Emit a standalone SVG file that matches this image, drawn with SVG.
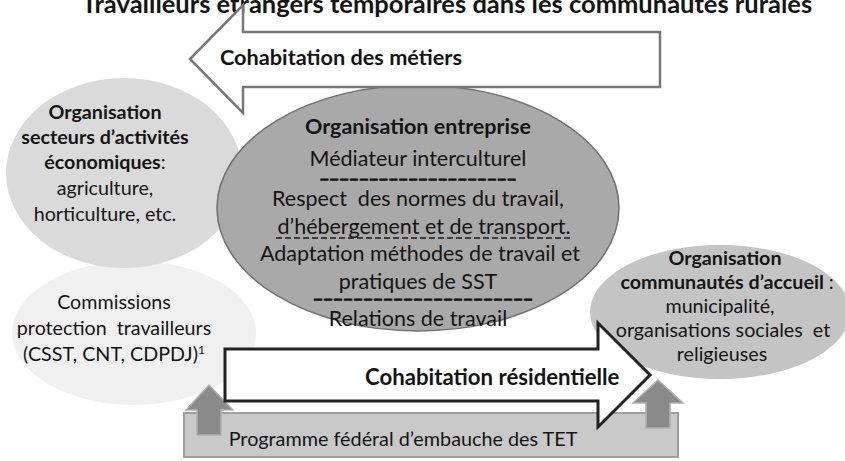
<svg xmlns="http://www.w3.org/2000/svg" width="845" height="461" viewBox="0 0 845 461">
<style>
text{font-family:Lato,"Liberation Sans",sans-serif;fill:#141414;text-anchor:middle}
.b{font-weight:bold}
.t{font-size:19.7px}
.c{font-size:21.5px}
.d{font-size:13px;font-weight:bold;stroke:#141414;stroke-width:0.7px}
</style>
<rect width="845" height="461" fill="#ffffff"/>
<text class="b" x="447" y="13" font-size="25.5">Travailleurs étrangers temporaires dans les communautés rurales</text>
<g id="commissions">
<ellipse cx="134" cy="333" rx="122" ry="72" fill="#f0f0f0"/>
<text class="t" x="114" y="309">Commissions</text>
<text class="t" x="114" y="335" xml:space="preserve">protection  travailleurs</text>
<text class="t" x="114" y="361">(CSST, CNT, CDPDJ)<tspan font-size="12" dy="-7">1</tspan></text>
</g>
<g id="secteurs">
<ellipse cx="124" cy="173" rx="118" ry="95" fill="#dadada"/>
<text class="t b" x="105" y="119">Organisation</text>
<text class="t b" x="105" y="144">secteurs d’activités</text>
<text class="t" x="105" y="169"><tspan class="b">économiques</tspan>:</text>
<text class="t" x="105" y="195">agriculture,</text>
<text class="t" x="105" y="221">horticulture, etc.</text>
</g>
<g id="communautes">
<ellipse cx="720" cy="312" rx="130" ry="67" fill="#c4c4c4"/>
<text class="t b" x="725" y="265">Organisation</text>
<text class="t b" x="727" y="289">communautés d’accueil <tspan font-weight="normal">:</tspan></text>
<text class="t" x="720" y="313">municipalité,</text>
<text class="t" x="723" y="337" xml:space="preserve">organisations sociales  et</text>
<text class="t" x="722" y="361">religieuses</text>
</g>
<g id="entreprise">
<ellipse cx="418" cy="208" rx="201" ry="123" fill="#a9a9a9" stroke="#707070" stroke-width="1.5"/>
<text class="c b" x="418" y="134">Organisation entreprise</text>
<text class="c" x="418" y="166">Médiateur interculturel</text>
<text class="d" x="418" y="184" textLength="197" lengthAdjust="spacingAndGlyphs">--------------------</text>
<text class="c" x="418" y="206" xml:space="preserve">Respect  des normes du travail,</text>
<text class="c" x="424" y="234">d’hébergement et de transport.</text>
<line x1="276" y1="238" x2="572" y2="238" stroke="#1a1a1a" stroke-width="1.5" stroke-dasharray="6 3"/>
<text class="c" x="420" y="261">Adaptation méthodes de travail et</text>
<text class="c" x="418" y="289">pratiques de SST</text>
<text class="d" x="423" y="304" textLength="220" lengthAdjust="spacingAndGlyphs">----------------------</text>
<text class="c" x="418" y="326">Relations de travail</text>
</g>
<g id="programme">
<rect x="184" y="413" width="494" height="44" fill="#c9c9c9" stroke="#9e9e9e" stroke-width="2"/>
<text x="403" y="446" style="font-size:19.8px">Programme fédéral d’embauche des TET</text>
</g>
<g id="connectors">
<polygon points="197,435 197,410 186,410 209,385 233,410 221,410 221,435" fill="#8a8a8a" stroke="#b0b0b0" stroke-width="1.5"/>
<polygon points="646,428 646,403 633,403 658,380 683,403 670,403 670,428" fill="#8a8a8a" stroke="#b0b0b0" stroke-width="1.5"/>
<g id="metiers">
<polygon points="660,32 243,32 243,5 190,59 243,113 243,87 660,87" fill="#ffffff" stroke="#777777" stroke-width="2.5"/>
<text class="b" x="220" y="65" font-size="21.7" style="text-anchor:start">Cohabitation des métiers</text>
</g>
<g id="residentielle">
<polygon points="225,349 598,349 598,323 650,375 598,427 598,401 225,401" fill="#ffffff" stroke="#222222" stroke-width="3"/>
<text class="b" x="365" y="385" font-size="22.2" style="text-anchor:start">Cohabitation résidentielle</text>
</g>
</g>
</svg>
